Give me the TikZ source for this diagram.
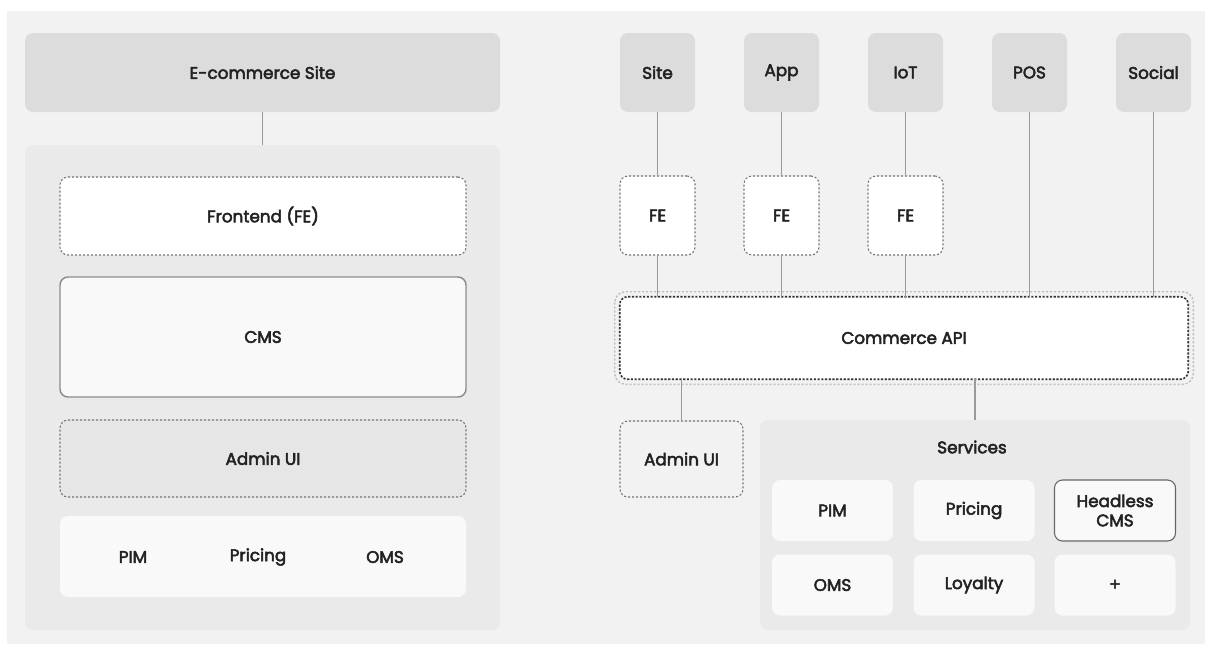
\documentclass[tikz,border=0pt]{standalone}
\usepackage{fontspec}
\setmainfont{Poppins}[UprightFeatures={FakeBold=3}]
\usepackage{tikz}
\usetikzlibrary{%
	calc,%
	positioning
}
\newdimen\pxu \pxu=0.75pt
\definecolor{bgGray}{HTML}{F2F2F2}
\definecolor{topGray}{HTML}{DCDCDC}
\definecolor{panelGray}{HTML}{EAEAEA}
\definecolor{offWhite}{HTML}{F9F9F9}
\definecolor{adminGray}{HTML}{E6E6E6}
\definecolor{inkGray}{HTML}{222222}
\definecolor{lineGray}{HTML}{9A9A9A}
\tikzset{
	box/.style={rectangle, rounded corners=6pt, inner sep=0pt, text=inkGray, font=\fontsize{12.6}{14.5}\selectfont, align=center},
	chan/.style={box, fill=topGray, minimum width=75\pxu, minimum height=79\pxu},
	dotbox/.style={box, draw=black!55, line width=0.8pt, dash pattern=on 1.6pt off 1.4pt},
	svc/.style={box, fill=offWhite, minimum width=121\pxu, minimum height=61\pxu},
	link/.style={lineGray, line width=1.1pt}
}

\begin{document}
\begin{tikzpicture}[x=0.75pt, y=-0.75pt]
	\useasboundingbox (0,0) rectangle (1205,644);
	\fill[bgGray] (7,11) rectangle (1205,644);
	% Monolith
	\node[box, fill=topGray, minimum width=475\pxu, minimum height=79\pxu] (shop) at (262.5,72.5) {E-commerce Site};
	\node[box, fill=panelGray, minimum width=475\pxu, minimum height=485\pxu] (stack) at (262.5,387.5) {};
	\node[dotbox, fill=white, minimum width=406\pxu, minimum height=78\pxu] (frontend) at (263,216) {Frontend (FE)};
	\node[box, fill=offWhite, draw=black!45, line width=1.1pt, minimum width=406\pxu, minimum height=120\pxu] (cms) at (263,337) {CMS};
	\node[dotbox, fill=adminGray, minimum width=406\pxu, minimum height=77\pxu] (adminL) at (263,458.5) {Admin UI};
	\node[box, fill=offWhite, minimum width=406\pxu, minimum height=81\pxu] (modsL) at (263,556.5) {};
	\node[box] (pimL) at (133,557) {PIM};
	\node[box] (pricingL) at (258,557) {Pricing};
	\node[box] (omsL) at (385,557) {OMS};
	\draw[link] (shop.south) -- (stack.north);
	% Headless
	\node[box, fill=white, minimum width=568\pxu, minimum height=82\pxu] (api) at (904,338) {Commerce API};
	\draw[black!25, line width=1.1pt, dash pattern=on 1.6pt off 1.4pt, rounded corners=8pt]
		($(api.north west)+(-5,-5)$) rectangle ($(api.south east)+(5,5)$);
	\draw[black!80, line width=1.2pt, dash pattern=on 1.6pt off 1.2pt, rounded corners=6pt]
		(api.north west) rectangle (api.south east);
	\foreach \name [count=\i from 0] in {Site,App,IoT,POS,Social}
		\node[chan] (ch\i) at (657.5+124*\i,72.5) {\name};
	\foreach \i in {0,1,2} {
		\node[dotbox, fill=white, minimum width=75\pxu, minimum height=79\pxu] (fe\i) at (657.5+124*\i,215.5) {FE};
		\draw[link] (ch\i) -- (fe\i);
		\draw[link] (fe\i) -- (fe\i |- api.north);
	}
	\foreach \i in {3,4}
		\draw[link] (ch\i) -- (ch\i |- api.north);
	\node[dotbox, minimum width=123\pxu, minimum height=76\pxu] (adminR) at (681.5,459) {Admin UI};
	\node[box, fill=panelGray, minimum width=430\pxu, minimum height=210\pxu] (services) at (975,525) {};
	\node[box] (svcTitle) at (972,447) {Services};
	\draw[link] (adminR.north |- api.south) -- (adminR.north);
	\draw[link] (services.north |- api.south) -- (services.north);
	% Services grid
	\node[svc] (pimR) at (832.5,510.5) {PIM};
	\node[svc] (pricingR) at (974,510.5) {Pricing};
	\node[svc, draw=black!60, line width=0.8pt] (cmsR) at (1115,510.5) {Headless\\CMS};
	\node[svc] (omsR) at (832.5,585) {OMS};
	\node[svc] (loyalty) at (974,585) {Loyalty};
	\node[svc] (more) at (1115,585) {+};
\end{tikzpicture}
\end{document}
